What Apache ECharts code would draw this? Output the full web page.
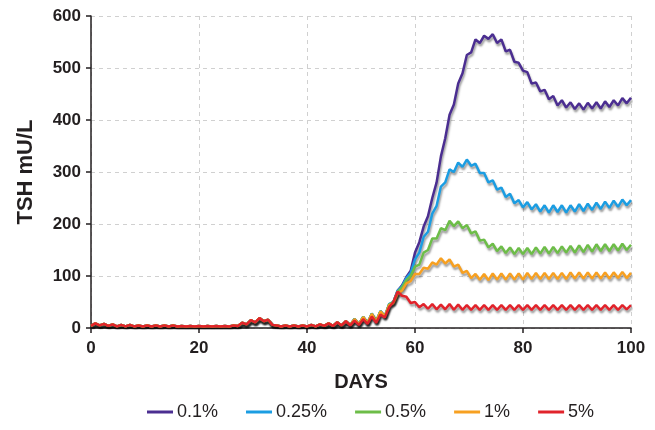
<!DOCTYPE html>
<html><head><meta charset="utf-8">
<script src="https://cdn.jsdelivr.net/npm/echarts@6/dist/echarts.min.js"></script>
<style>html,body{margin:0;padding:0;background:#fff}#c{width:655px;height:430px}</style>
</head><body><div id="c"></div>
<script>
const days = [0,0.8,1.6,2.4,3.2,4,4.8,5.6,6.4,7.2,
8,8.8,9.6,10.4,11.2,12,12.8,13.6,14.4,15.2,
16,16.8,17.6,18.4,19.2,20,20.8,21.6,22.4,23.2,
24,24.8,25.6,26.4,27.2,28,28.8,29.6,30.4,31.2,
32,32.8,33.6,34.4,35.2,36,36.8,37.6,38.4,39.2,
40,40.8,41.6,42.4,43.2,44,44.8,45.6,46.4,47.2,
48,48.8,49.6,50.4,51.2,52,52.8,53.6,54.4,55.2,
56,56.8,57.6,58.4,59.2,60,60.8,61.6,62.4,63.2,
64,64.8,65.6,66.4,67.2,68,68.8,69.6,70.4,71.2,
72,72.8,73.6,74.4,75.2,76,76.8,77.6,78.4,79.2,
80,80.8,81.6,82.4,83.2,84,84.8,85.6,86.4,87.2,
88,88.8,89.6,90.4,91.2,92,92.8,93.6,94.4,95.2,
96,96.8,97.6,98.4,99.2,100];

// shared early segment (days 0 - 47.2), all doses overlap here
const earlyTSH = [4,9,5,8,4,7,3,6,3,6, 3,5,3,5,3,5,3,5,3,5, 3,4,3,4,3,4,3,4,3,4,
 3,4,3,5,4,10,7,15,11,19, 13,16,6,5,3,5,3,5,3,5, 3,6,3,7,4,9,4,11,5,13];

// days 48 - 100
const tsh01 = [6,17,7,21,9,27,12,32,22,45,
50,72,82,98,110,145,165,195,215,250,
280,330,365,410,430,470,490,525,530,555,
548,562,556,565,548,555,532,535,512,510,
495,492,470,472,455,458,440,446,428,438,
424,434,421,432,420,433,422,434,422,436,
425,438,428,442,432,443];
const tsh025 = [6,18,7,22,9,28,12,33,22,46,
50,72,80,96,106,132,145,175,185,220,
235,272,280,305,300,318,310,324,312,316,
298,298,280,284,266,270,252,258,240,246,
232,242,228,238,224,236,222,236,223,236,
222,236,224,238,225,239,227,241,229,243,
231,245,233,247,236,246];
const tsh05 = [6,17,7,21,9,27,12,32,22,45,
50,70,78,92,100,118,122,145,150,172,
172,192,188,206,196,205,192,198,182,186,
168,170,155,162,148,157,144,155,142,154,
142,154,142,155,143,156,143,156,144,157,
145,158,145,159,146,160,147,161,148,161,
148,161,149,162,150,160];
const tsh1 = [6,17,7,21,9,27,12,32,22,44,
48,66,72,86,90,104,104,116,114,126,
122,134,124,132,118,122,106,110,96,104,
93,104,92,105,93,105,93,105,93,105,
93,106,94,106,94,106,94,106,94,106,
94,107,95,107,95,107,95,107,95,107,
95,107,96,108,96,106];
const tsh5 = [5,14,6,17,8,22,10,26,20,40,
50,70,62,60,48,50,40,46,37,46,
36,45,36,46,35,45,35,44,35,44,
35,44,35,44,35,44,35,44,35,44,
35,44,35,44,35,44,35,44,35,44,
35,44,35,44,35,44,35,44,35,44,
35,44,35,44,36,44];

const seriesNames = ['0.1%','0.25%','0.5%','1%','5%'];
const seriesLate = [tsh01, tsh025, tsh05, tsh1, tsh5];
const colors = ['#4b2e91','#1b9de2','#6dbd48','#f7a021','#e1232b'];
const xTicks = [0,20,40,60,80,100];
const yTicks = [0,100,200,300,400,500,600];

const FONT = '"Liberation Sans", Arial, Helvetica, sans-serif';
const chart = echarts.init(document.getElementById('c'));
chart.setOption({
  animation: false,
  grid: {left: 91, right: 24, top: 16, bottom: 102, containLabel: false},
  legend: {
    left: 142, top: 398, itemWidth: 26, itemHeight: 3, itemGap: 28,
    icon: 'rect', itemStyle: {borderWidth: 0},
    textStyle: {fontFamily: FONT, fontSize: 18, color: '#231f20', padding: [0,0,0,-1]},
    data: seriesNames.map((n,i)=>({name: n, itemStyle:{color: colors[i]}}))
  },
  xAxis: {
    type: 'value', min: xTicks[0], max: xTicks[xTicks.length-1], interval: 20,
    name: 'DAYS', nameLocation: 'middle', nameGap: 44,
    nameTextStyle: {fontFamily: FONT, fontSize: 20, fontWeight: 'bold', color: '#231f20'},
    axisLine: {lineStyle: {color: '#231f20', width: 1.5}},
    axisTick: {show: true, length: 5, lineStyle: {color: '#231f20', width: 1.5}},
    axisLabel: {fontFamily: FONT, fontSize: 17, fontWeight: 'bold', color: '#231f20', margin: 12},
    splitLine: {show: true, lineStyle: {color: '#d0d0d0', type: [4,4], width: 1}}
  },
  yAxis: {
    type: 'value', min: yTicks[0], max: yTicks[yTicks.length-1], interval: 100,
    name: 'TSH mU/L', nameLocation: 'middle', nameGap: 54,
    nameTextStyle: {fontFamily: FONT, fontSize: 22, fontWeight: 'bold', color: '#231f20'},
    axisLine: {show: true, lineStyle: {color: '#231f20', width: 1.5}},
    axisTick: {show: true, length: 5, lineStyle: {color: '#231f20', width: 1.5}},
    axisLabel: {fontFamily: FONT, fontSize: 17, fontWeight: 'bold', color: '#231f20', margin: 10},
    splitLine: {show: true, lineStyle: {color: '#d0d0d0', type: [4,4], width: 1}}
  },
  series: seriesNames.map((n,i)=>({
    name: n, type: 'line', showSymbol: false, symbol: 'none',
    color: colors[i],
    lineStyle: {color: colors[i], width: 2.5, shadowColor: 'rgba(0,0,0,0.38)', shadowBlur: 2, shadowOffsetX: 1, shadowOffsetY: 2.5},
    data: earlyTSH.concat(seriesLate[i]).map((v,k)=>[days[k], v])
  }))
});
</script></body></html>
